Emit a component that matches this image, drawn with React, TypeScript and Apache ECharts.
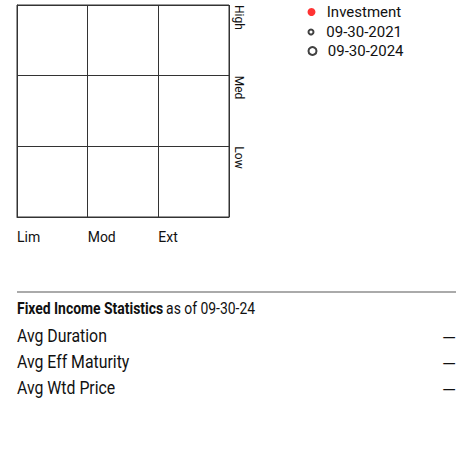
import React, { useEffect, useRef } from "react";
import * as echarts from "echarts";

const xLabels = ["Lim", "Mod", "Ext"];
const yLabels = ["Low", "Med", "High"];
const seriesNames = ["Investment", "09-30-2021", "09-30-2024"];
const investmentPoints: number[][] = [];
const points2021: number[][] = [];
const points2024: number[][] = [];
const statsTitle = "Fixed Income Statistics";
const statsDate = "as of 09-30-24";
const statLabels = ["Avg Duration", "Avg Eff Maturity", "Avg Wtd Price"];
const statValues = ["—", "—", "—"];

const FONT = "Roboto, 'Liberation Sans', sans-serif";

export default function App() {
  const ref = useRef<HTMLDivElement>(null);
  useEffect(() => {
    document.body.style.margin = "0";
    const chart = echarts.init(ref.current!, null, { renderer: "svg" });
    const statGraphics: any[] = [];
    statLabels.forEach((lab, i) => {
      statGraphics.push({
        type: "text",
        x: 17,
        y: 336 + i * 26,
        scaleX: 0.88,
        style: {
          text: lab,
          font: `18px ${FONT}`,
          fill: "#111",
          verticalAlign: "middle",
          align: "left",
        },
      });
      statGraphics.push({
        type: "text",
        x: 456,
        y: 337 + i * 26,
        style: {
          text: statValues[i],
          font: `18px ${FONT}`,
          fill: "#111",
          verticalAlign: "middle",
          align: "right",
        },
      });
    });
    const legendBase = {
      left: 307.5,
      itemWidth: 20.6,
      padding: 0,
      icon: "circle",
      selectedMode: false,
      textStyle: { fontSize: 15, lineHeight: 16, color: "#111", fontFamily: FONT },
    };
    chart.setOption({
      animation: false,
      textStyle: { fontFamily: FONT },
      grid: {
        left: 17,
        top: 5,
        width: 212,
        height: 212,
        show: true,
        borderColor: "#333",
        borderWidth: 1,
      },
      xAxis: {
        type: "value",
        min: 0,
        max: 3,
        interval: 1,
        axisLine: { show: true, lineStyle: { color: "#333" } },
        axisTick: { show: false },
        splitLine: { show: true, lineStyle: { color: "#333", width: 1 } },
        axisLabel: {
          formatter: (v: number) => xLabels[v] ?? "",
          align: "left",
          margin: 13,
          fontSize: 14,
          color: "#111",
          fontFamily: FONT,
        },
      },
      yAxis: {
        type: "value",
        position: "right",
        min: 0,
        max: 3,
        interval: 1,
        axisLine: { show: true, lineStyle: { color: "#333" } },
        axisTick: { show: false },
        splitLine: { show: true, lineStyle: { color: "#333", width: 1 } },
        axisLabel: {
          formatter: (v: number) => yLabels[v - 1] ?? "",
          rotate: -90,
          align: "left",
          verticalAlign: "middle",
          margin: 10,
          fontSize: 12,
          color: "#111",
          fontFamily: FONT,
        },
      },
      legend: [
        { ...legendBase, data: [seriesNames[0]], top: 4, itemHeight: 8 },
        { ...legendBase, data: [seriesNames[1]], top: 24, itemHeight: 5 },
        { ...legendBase, data: [seriesNames[2]], top: 43, itemHeight: 8 },
      ],
      series: [
        {
          type: "scatter",
          name: seriesNames[0],
          data: investmentPoints,
          itemStyle: { color: "#ff0000" },
        },
        {
          type: "scatter",
          name: seriesNames[1],
          data: points2021,
          itemStyle: { color: "#fff", borderColor: "#111", borderWidth: 1 },
        },
        {
          type: "scatter",
          name: seriesNames[2],
          data: points2024,
          itemStyle: { color: "#fff", borderColor: "#111", borderWidth: 1 },
        },
      ],
      graphic: [
        {
          type: "line",
          shape: { x1: 17, y1: 292, x2: 456, y2: 292 },
          style: { stroke: "#aaa", lineWidth: 2 },
        },
        {
          type: "text",
          x: 17,
          y: 309,
          scaleX: 0.87,
          style: {
            text: `{b|${statsTitle}} {n|${statsDate}}`,
            verticalAlign: "middle",
            align: "left",
            rich: {
              b: { font: `bold 16px ${FONT}`, fill: "#111" },
              n: { font: `16px ${FONT}`, fill: "#111" },
            },
          },
        },
        ...statGraphics,
      ],
    });
    return () => chart.dispose();
  }, []);
  return (
    <div
      ref={ref}
      style={{ position: "absolute", left: 0, top: 0, width: 456, height: 472 }}
    />
  );
}
